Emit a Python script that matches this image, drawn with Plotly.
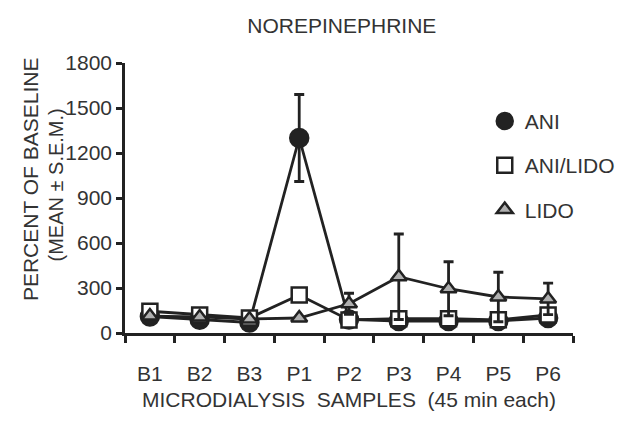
import plotly.graph_objects as go

categories = ["B1", "B2", "B3", "P1", "P2", "P3", "P4", "P5", "P6"]

ani = [110, 88, 70, 1300, 90, 80, 80, 80, 100]
ani_err = [0, 0, 0, 290, 0, 0, 0, 0, 0]

ani_lido = [145, 120, 100, 253, 87, 95, 95, 88, 120]
ani_lido_err = [0, 0, 0, 0, 0, 0, 0, 0, 0]

lido = [113, 107, 93, 100, 195, 375, 295, 240, 227]
lido_err = [0, 0, 0, 0, 70, 285, 180, 165, 105]

y_ticks = [0, 300, 600, 900, 1200, 1500, 1800]

FONT = "Liberation Sans, Arial, sans-serif"
INK = "#222222"
TXT = "#333333"
FS = 21

fig = go.Figure()

def add_series(name, y, err, symbol, fill, size):
    fig.add_trace(go.Scatter(
        x=categories, y=y, mode="lines+markers", name=name, showlegend=False,
        line=dict(color=INK, width=2.8),
        marker=dict(symbol=symbol, size=size, color=fill, line=dict(color=INK, width=2.5)),
        error_y=dict(type="data", array=err, visible=True, color=INK, thickness=2.8, width=5),
    ))

add_series("ANI", ani, ani_err, "circle", INK, 18)
add_series("ANI/LIDO", ani_lido, ani_lido_err, "square", "white", 15)
add_series("LIDO", lido, lido_err, "triangle-up", "#b0b0b0", 14)

# legend-only entries (markers only)
for i, (name, symbol, fill, size) in enumerate([
        ("ANI", "circle", INK, 18),
        ("ANI/LIDO", "square", "white", 15),
        ("LIDO", "triangle-up", "#b0b0b0", 14)]):
    fig.add_trace(go.Scatter(
        x=[None], y=[None], mode="markers", name=name, legendgroup=f"g{i}",
        marker=dict(symbol=symbol, size=size, color=fill, line=dict(color=INK, width=2.5)),
    ))

fig.update_layout(
    width=624, height=422,
    margin=dict(l=117, r=49, t=55, b=97),
    paper_bgcolor="white", plot_bgcolor="white",
    font=dict(family=FONT, size=FS, color=TXT),
    title=dict(text="NOREPINEPHRINE", x=0.535, xref="container", xanchor="center",
               y=0.958, yref="container", yanchor="middle",
               font=dict(size=FS, color=TXT)),
    legend=dict(x=0.803, y=0.86, xanchor="left", yanchor="top",
                bgcolor="rgba(0,0,0,0)", tracegroupgap=14,
                font=dict(size=FS, color=TXT)),
    showlegend=True,
)

fig.update_xaxes(
    type="category", range=[-0.5, 8.5],
    showline=True, linecolor=INK, linewidth=2.5,
    ticks="outside", tickson="boundaries", ticklen=7, tickwidth=2.5, tickcolor=INK,
    ticklabelstandoff=20,
    showgrid=False, zeroline=False,
    tickfont=dict(size=FS, color=TXT),
    title=dict(text="MICRODIALYSIS\u00a0\u00a0SAMPLES\u00a0\u00a0(45\u00a0min\u00a0each)",
               font=dict(size=FS, color=TXT), standoff=9),
)
fig.update_yaxes(
    range=[0, 1800], tickvals=y_ticks,
    showline=True, linecolor=INK, linewidth=2.5,
    ticks="outside", ticklen=6, tickwidth=2.5, tickcolor=INK,
    showgrid=False, zeroline=False,
    tickfont=dict(size=FS, color=TXT),
)

fig.add_annotation(text="PERCENT OF BASELINE", textangle=-90, xref="paper", yref="paper",
                   x=-0.212, y=0.57, xanchor="center", yanchor="middle", showarrow=False,
                   font=dict(size=FS, color=TXT))
fig.add_annotation(text="(MEAN \u00b1 S.E.M.)", textangle=-90, xref="paper", yref="paper",
                   x=-0.153, y=0.548, xanchor="center", yanchor="middle", showarrow=False,
                   font=dict(size=20, color=TXT))

fig.write_html("out.html")
